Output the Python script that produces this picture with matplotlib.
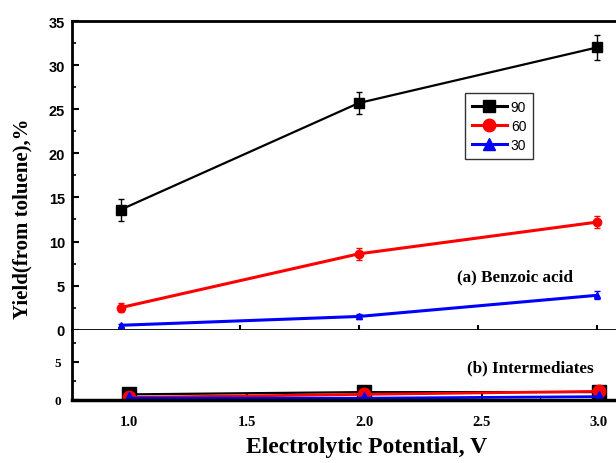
import matplotlib
matplotlib.use("Agg")
import matplotlib.pyplot as plt
from matplotlib.lines import Line2D
from matplotlib.ticker import MultipleLocator

# ---- data ----
potential = [1.0, 2.0, 3.0]
series_names = ["90", "60", "30"]
benzoic_90 = [13.6, 25.7, 32.0]
benzoic_90_err = [1.25, 1.3, 1.45]
benzoic_60 = [2.5, 8.6, 12.2]
benzoic_60_err = [0.5, 0.7, 0.7]
benzoic_30 = [0.5, 1.5, 3.9]
benzoic_30_err = [0.2, 0.3, 0.45]
inter_90 = [0.7, 1.0, 1.0]
inter_60 = [0.3, 0.7, 1.1]
inter_30 = [0.2, 0.2, 0.4]
x_ticks = [1.0, 1.5, 2.0, 2.5, 3.0]

W, H = 616, 464
fig = plt.figure(figsize=(W / 100, H / 100), dpi=100)

def frac_box(x0, y0, x1, y1):
    return [x0 / W, 1 - y1 / H, (x1 - x0) / W, (y1 - y0) / H]

ax1 = fig.add_axes(frac_box(72, 22, 632, 330.7))
ax2 = fig.add_axes(frac_box(72, 330.7, 632, 400.7))

sans = "Liberation Sans"
serif = "Liberation Serif"

# top panel
colors = ["black", "#ff0000", "#0000ff"]
markers = ["s", "o", "^"]
top_vals = [benzoic_90, benzoic_60, benzoic_30]
top_errs = [benzoic_90_err, benzoic_60_err, benzoic_30_err]
top_ms = [6.5, 6, 5]
top_lw = [1.6, 2.2, 2.2]
for vals, errs, c, m, ms, lw in zip(top_vals, top_errs, colors, markers, top_ms, top_lw):
    ax1.errorbar(potential, vals, yerr=errs, color=c, marker=m, ms=ms, lw=lw,
                 elinewidth=1.0, capsize=2.5, capthick=1.0)

ppu = (597 - 120.5) / 2
ax1.set_xlim(1 - (120.5 - 72) / ppu, 3 + (632 - 597) / ppu)
ax1.set_ylim(0, 35)
ax1.xaxis.set_major_locator(MultipleLocator(0.5))
ax1.yaxis.set_major_locator(MultipleLocator(5))
ax1.yaxis.set_minor_locator(MultipleLocator(2.5))
ax1.tick_params(axis="x", which="major", direction="inout", length=7, width=1.5,
                labelbottom=False, top=False)
ax1.tick_params(axis="y", which="major", direction="in", length=5, width=1.5, pad=5,
                right=False)
ax1.tick_params(axis="y", which="minor", direction="in", length=3, width=1.2, right=False)
for lab in ax1.get_yticklabels():
    lab.set_fontfamily(sans)
    lab.set_fontweight("bold")
    lab.set_fontsize(10.5)
for s in ax1.spines.values():
    s.set_linewidth(2)
ax1.spines["right"].set_visible(False)

fig.text(457 / W, 1 - 277 / H, "(a) Benzoic acid", fontsize=12.3,
         fontfamily=serif, fontweight="bold", va="center", ha="left")

# legend
handles = [Line2D([], [], color=c, marker=m, ms=9, lw=2.2)
           for c, m in zip(colors, markers)]
leg = ax1.legend(handles, series_names, loc="upper left",
                 bbox_to_anchor=((465 - 72) / 560, 1 - (94 - 22) / 308.7),
                 borderaxespad=0, prop={"family": sans, "size": 10},
                 handlelength=2.5, handletextpad=0.3, labelspacing=0.35,
                 frameon=True, fancybox=False, borderpad=0.5, edgecolor="black")
leg.get_frame().set_linewidth(1.0)

# bottom panel
bot_vals = [inter_90, inter_60, inter_30]
bot_ms = [10, 9, 8]
bot_lw = [1.6, 2.0, 2.0]
for vals, c, m, ms, lw in zip(bot_vals, colors, markers, bot_ms, bot_lw):
    ax2.plot(potential, vals, color=c, marker=m, ms=ms, lw=lw)

ppu2 = (599 - 129) / 2
ax2.set_xlim(1 - (129 - 72) / ppu2, 3 + (632 - 599) / ppu2)
ax2.set_ylim(0, 70 / 38 * 5)
ax2.set_xticks(x_ticks)
ax2.set_xticklabels([f"{v:.1f}" for v in x_ticks], fontfamily=serif,
                    fontweight="bold", fontsize=10.5)
ax2.xaxis.set_minor_locator(MultipleLocator(0.25))
ax2.set_yticks([0, 5])
ax2.set_yticklabels(["0", "5"], fontfamily=serif, fontweight="bold", fontsize=9.5)
ax2.yaxis.set_minor_locator(MultipleLocator(2.5))
ax2.tick_params(axis="x", which="major", direction="in", length=5, width=1.5, pad=11,
                top=False)
ax2.tick_params(axis="x", which="minor", direction="in", length=2, width=1.0, top=False)
ax2.tick_params(axis="y", which="major", direction="in", length=5, width=1.5, pad=8,
                right=False)
ax2.tick_params(axis="y", which="minor", direction="in", length=3, width=1.2, right=False)
for s in ax2.spines.values():
    s.set_linewidth(2)
ax2.spines["bottom"].set_linewidth(2.5)
ax2.spines["right"].set_visible(False)
ax2.spines["top"].set_visible(False)

fig.text(467 / W, 1 - 368 / H, "(b) Intermediates", fontsize=12.3,
         fontfamily=serif, fontweight="bold", va="center", ha="left")

# axis labels
fig.text(367 / W, 1 - 448 / H, "Electrolytic Potential, V", fontsize=17,
         fontfamily=serif, fontweight="bold", ha="center", va="center")
fig.text(22 / W, 1 - 219 / H, "Yield(from toluene),%", fontsize=15,
         fontfamily=serif, fontweight="bold", ha="center", va="center", rotation=90)

fig.savefig("out.png", dpi=100)
